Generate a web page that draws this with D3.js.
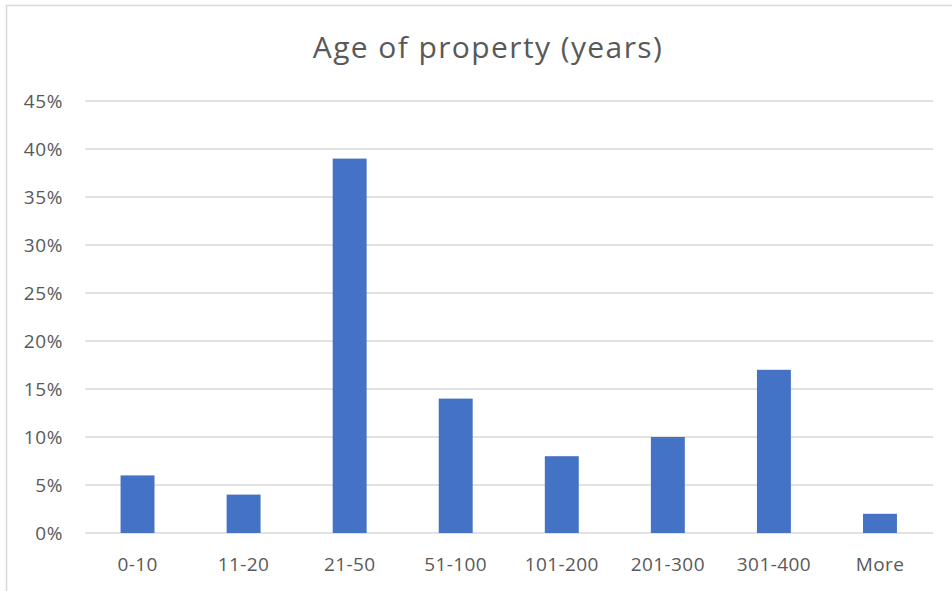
<!DOCTYPE html>
<html lang="en">
<head>
  <meta charset="utf-8">
  <script src="https://d3js.org/d3.v7.min.js"></script>
  <style>
    body { margin: 0; background: #fff; }
    text { font-family: "Open Sans", "Liberation Sans", sans-serif; fill: #595959; }
  </style>
</head>
<body>
  <svg id="chart" width="952" height="591"></svg>
  <script>
    // data
    const categories = ["0-10", "11-20", "21-50", "51-100", "101-200", "201-300", "301-400", "More"];
    const shares = [0.06, 0.04, 0.39, 0.14, 0.08, 0.10, 0.17, 0.02];
    const yTicks = [0, 0.05, 0.10, 0.15, 0.20, 0.25, 0.30, 0.35, 0.40, 0.45];
    const title = "Age of property (years)";

    let svg = d3.select("#chart");

    // chart frame (only left and top edges show in the crop)
    svg.append("rect")
      .attr("x", 6.5).attr("y", 5.5)
      .attr("width", 960).attr("height", 600)
      .attr("fill", "none")
      .attr("stroke", "#d9d9d9")
      .attr("stroke-width", 1.5);

    let x = d3.scaleBand()
      .domain(categories)
      .range([84.5, 933])
      .paddingInner(0.68)
      .paddingOuter(0.34);

    let y = d3.scaleLinear().domain([0, 0.45]).range([533, 101]);

    // gridlines
    svg.append("g").selectAll("line").data(yTicks)
      .enter()
      .append("line")
      .attr("x1", 85).attr("x2", 933)
      .attr("y1", d => y(d)).attr("y2", d => y(d))
      .attr("stroke", "#d9d9d9")
      .attr("stroke-width", 1.3);

    // y labels
    let yAxis = d3.axisLeft(y).tickValues(yTicks).tickFormat(d3.format(".0%")).tickSize(0).tickPadding(0);
    let gy = svg.append("g").attr("transform", "translate(63,0)").call(yAxis);
    gy.select(".domain").remove();
    gy.selectAll("text").attr("font-size", 19).attr("fill", "#595959")
      .attr("dy", "0.36em").attr("letter-spacing", 0.6)
      .style("font-family", "'Open Sans', sans-serif");

    // bars
    svg.append("g").selectAll("rect").data(shares)
      .enter()
      .append("rect")
      .attr("x", (d, i) => x(categories[i]))
      .attr("y", d => y(d))
      .attr("width", x.bandwidth())
      .attr("height", d => y(0) - y(d))
      .attr("fill", "#4472c4");

    // x labels
    let xAxis = d3.axisBottom(x).tickSize(0).tickPadding(0);
    let gx = svg.append("g").attr("transform", "translate(0,571)").call(xAxis);
    gx.select(".domain").remove();
    gx.selectAll("text").attr("font-size", 19).attr("fill", "#595959")
      .attr("dy", 0).attr("letter-spacing", 0.4)
      .style("font-family", "'Open Sans', sans-serif");

    svg.append("text")
      .attr("x", 488).attr("y", 58)
      .attr("text-anchor", "middle")
      .attr("font-size", 30)
      .attr("letter-spacing", 1.4)
      .text(title);
  </script>
</body>
</html>
